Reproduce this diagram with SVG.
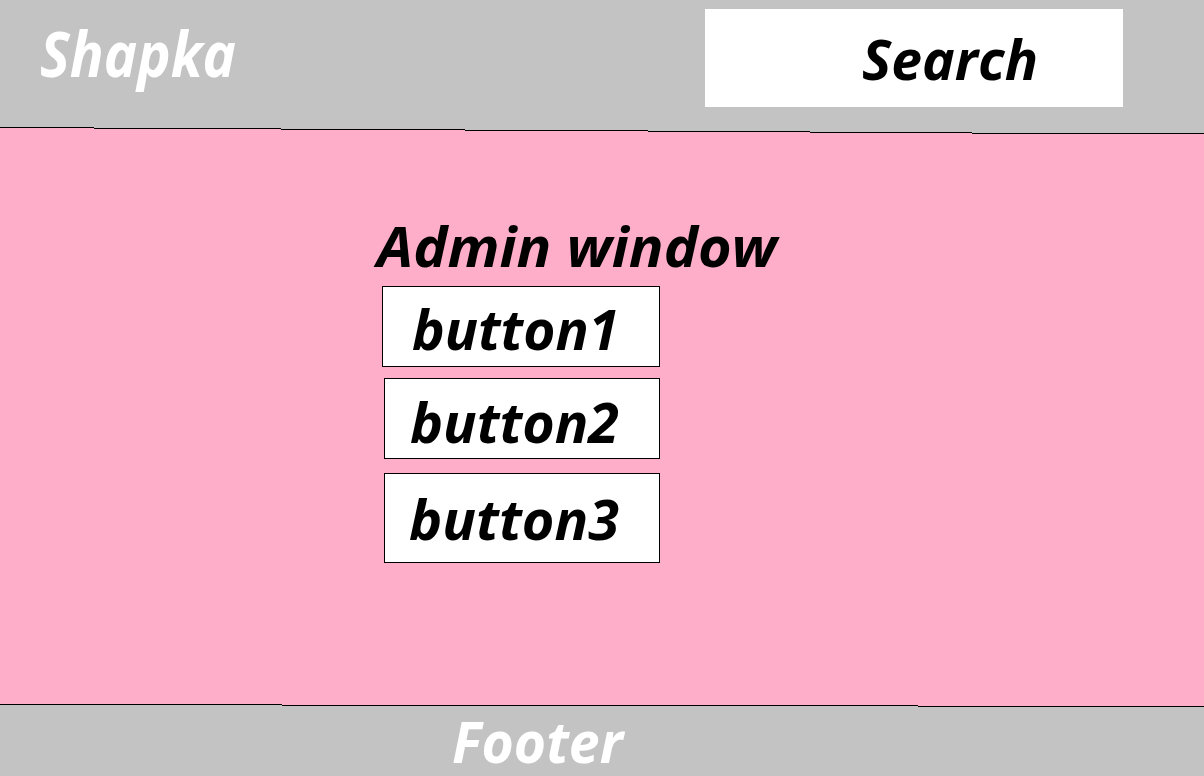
<svg xmlns="http://www.w3.org/2000/svg" width="1204" height="776" viewBox="0 0 1204 776">
  <style>
    .lbl { font-family: "Open Sans", "Noto Sans", "Liberation Sans", sans-serif; font-weight: bold; font-style: italic; }
    .light { fill: #ffffff; }
    .dark { fill: #000000; }
    .edge { fill: none; stroke: #000000; stroke-width: 1; shape-rendering: crispEdges; }
    .btn { fill: #ffffff; stroke: #000000; stroke-width: 1; shape-rendering: crispEdges; }
  </style>

  <!-- page body -->
  <rect id="body" x="0" y="0" width="1204" height="776" fill="#ffaec9"/>

  <!-- header band -->
  <g id="header">
    <polygon fill="#c3c3c3" shape-rendering="crispEdges"
      points="0,0 1204,0 1204,133 972,133 972,132 810,132 810,131 648,131 648,130 465,130 465,129 281,129 281,128 94,128 94,127 0,127"/>
    <path class="edge" d="M0,127.5 H94 M94,128.5 H281 M281,129.5 H465 M465,130.5 H648 M648,131.5 H810 M810,132.5 H972 M972,133.5 H1204"/>
    <text class="lbl light" x="40" y="77" font-size="62" textLength="196" lengthAdjust="spacingAndGlyphs">Shapka</text>
  </g>

  <!-- search field -->
  <g id="search">
    <rect x="705" y="9" width="418" height="98" fill="#ffffff"/>
    <text class="lbl dark" x="862" y="80" font-size="56" textLength="176" lengthAdjust="spacingAndGlyphs">Search</text>
  </g>

  <!-- footer band -->
  <g id="footer">
    <polygon fill="#c3c3c3" shape-rendering="crispEdges"
      points="0,705 282,705 282,706 918,706 918,707 1204,707 1204,776 0,776"/>
    <path class="edge" d="M0,704.5 H282 M282,705.5 H918 M918,706.5 H1204"/>
    <text class="lbl light" x="452" y="763" font-size="57" textLength="171" lengthAdjust="spacingAndGlyphs">Footer</text>
  </g>

  <!-- admin panel -->
  <g id="admin-title">
    <text class="lbl dark" x="377" y="267" font-size="55" textLength="400" lengthAdjust="spacingAndGlyphs">Admin window</text>
  </g>

  <g id="button1">
    <rect class="btn" x="382.5" y="286.5" width="277" height="80"/>
    <text class="lbl dark" x="412" y="350" font-size="56" textLength="207" lengthAdjust="spacingAndGlyphs">button1</text>
  </g>

  <g id="button2">
    <rect class="btn" x="384.5" y="378.5" width="275" height="80"/>
    <text class="lbl dark" x="410" y="443" font-size="56" textLength="209" lengthAdjust="spacingAndGlyphs">button2</text>
  </g>

  <g id="button3">
    <rect class="btn" x="384.5" y="473.5" width="275" height="89"/>
    <text class="lbl dark" x="409" y="540" font-size="56" textLength="210" lengthAdjust="spacingAndGlyphs">button3</text>
  </g>
</svg>
